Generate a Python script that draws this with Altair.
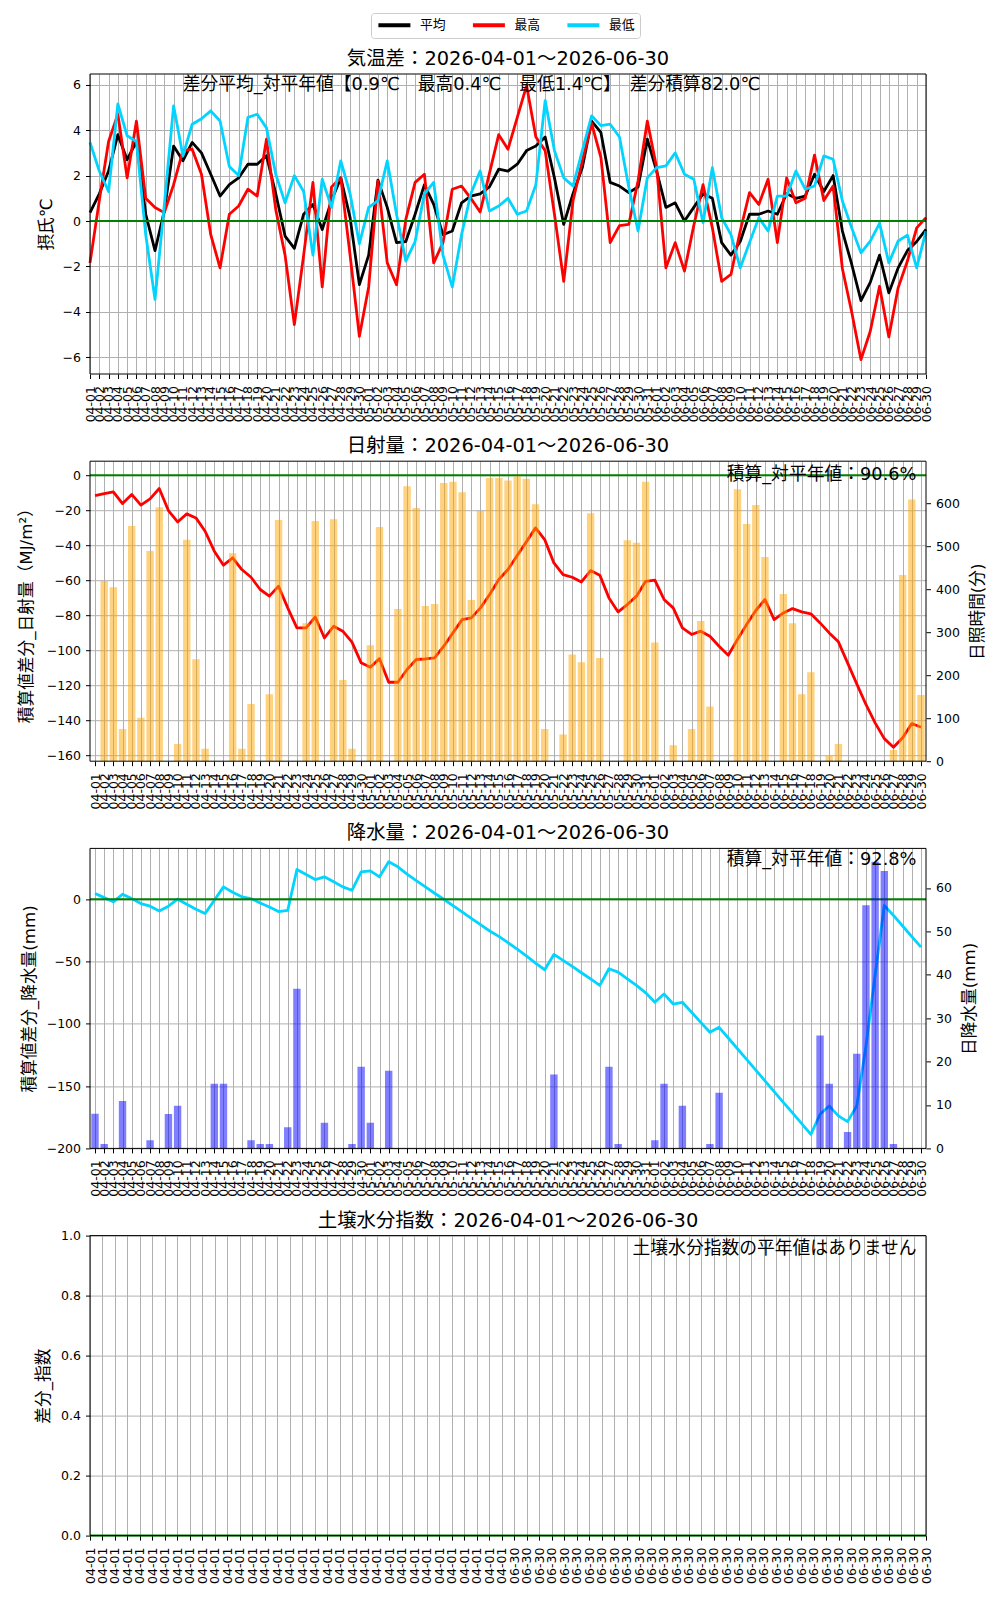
import json
import pandas as pd
import altair as alt

# ---------------- data ----------------
dates = [d.strftime("%m-%d") for d in pd.date_range("2026-04-01", "2026-06-30")]
days = list(range(len(dates)))

series_names = ["平均", "最高", "最低"]
series_colors = ["black", "red", "#00D4FF"]

t_avg = [0.37, 1.2, 2.2, 3.8, 2.7, 3.5, 0.3, -1.3, 0.44, 3.3,
         2.65, 3.46, 3.0, 2.06, 1.1, 1.6, 1.9, 2.5, 2.5, 2.87,
         1.2, -0.66, -1.2, 0.3, 0.73, -0.37, 0.9, 1.9, 0.15, -2.8,
         -1.5, 1.8, 0.6, -0.95, -0.9, 0.3, 1.6, 0.73, -0.6, -0.44,
         0.8, 1.1, 1.2, 1.5, 2.28, 2.2, 2.5, 3.1, 3.3, 3.7,
         1.9, -0.15, 1.2, 2.35, 4.4, 3.9, 1.7, 1.54, 1.25, 1.5,
         3.6, 2.2, 0.6, 0.8, 0.0, 0.6, 1.2, 1.0, -0.95, -1.5,
         -0.9, 0.3, 0.3, 0.44, 0.3, 1.2, 1.0, 1.1, 2.06, 1.3,
         2.0, -0.44, -1.9, -3.5, -2.7, -1.5, -3.16, -2.06, -1.3, -0.9,
         -0.37]
t_max = [-1.84, 0.9, 3.5, 4.7, 1.9, 4.4, 1.0, 0.6, 0.37, 1.6,
         3.1, 3.16, 2.06, -0.6, -2.06, 0.3, 0.66, 1.4, 1.1, 3.6,
         0.5, -1.5, -4.56, -1.5, 1.7, -2.9, 1.5, 1.9, -1.5, -5.07,
         -2.9, 1.76, -1.84, -2.8, 0.07, 1.7, 2.06, -1.84, -0.95, 1.4,
         1.54, 1.0, 0.4, 2.1, 3.8, 3.16, 4.56, 5.96, 3.7, 3.1,
         0.3, -2.65, 0.9, 2.65, 4.3, 2.8, -0.95, -0.2, -0.15, 1.76,
         4.4, 2.35, -2.06, -0.95, -2.2, -0.2, 1.6, -0.3, -2.65, -2.35,
         -0.44, 1.25, 0.73, 1.84, -0.95, 1.9, 0.8, 1.0, 2.9, 0.9,
         1.54, -2.1, -4.0, -6.1, -4.85, -2.87, -5.1, -2.94, -1.76, -0.3,
         0.15]
t_min = [3.46, 2.2, 1.3, 5.15, 3.75, 3.5, -0.6, -3.45, 0.7, 5.07,
         2.87, 4.26, 4.5, 4.85, 4.4, 2.4, 2.0, 4.56, 4.7, 4.1,
         2.06, 0.8, 2.0, 1.3, -1.5, 1.84, 0.6, 2.65, 1.2, -1.0,
         0.6, 0.9, 2.65, 0.3, -1.76, -0.9, 1.2, 1.7, -1.5, -2.9,
         -0.6, 1.2, 2.2, 0.44, 0.66, 1.0, 0.3, 0.44, 1.6, 5.3,
         3.1, 1.9, 1.54, 3.1, 4.63, 4.2, 4.26, 3.7, 1.5, -0.44,
         1.9, 2.35, 2.43, 3.0, 2.06, 1.84, -0.07, 2.35, 0.15, -0.6,
         -2.06, -0.95, 0.15, -0.44, 1.1, 1.1, 2.2, 1.4, 1.54, 2.87,
         2.72, 0.88, -0.3, -1.4, -0.88, -0.1, -1.84, -0.88, -0.62, -2.06,
         -0.44]

solar_cum = [-11.6, -10.5, -9.5, -16.2, -11.0, -17.1, -13.5, -7.6, -20.2, -26.7,
             -22.1, -24.4, -32.0, -43.4, -51.4, -47.2, -53.9, -58.3, -65.3, -69.1,
             -63.4, -75.8, -87.2, -87.2, -81.0, -93.0, -86.3, -89.1, -95.4, -107.2,
             -109.7, -104.8, -118.3, -118.3, -111.0, -105.3, -105.0, -104.4, -97.7, -90.1,
             -82.5, -81.5, -75.8, -68.2, -59.6, -53.9, -45.9, -38.1, -30.1, -36.8,
             -50.1, -56.8, -58.3, -61.0, -54.5, -57.1, -70.1, -78.1, -73.9, -69.1,
             -60.6, -60.0, -71.0, -75.8, -87.2, -91.0, -89.1, -92.0, -97.7, -102.9,
             -93.9, -85.3, -77.3, -71.0, -82.5, -78.7, -76.2, -78.1, -79.2, -84.4,
             -90.1, -95.2, -107.2, -119.2, -131.0, -141.5, -150.5, -155.4, -150.0, -141.9,
             -144.0]
sunshine = [0, 419, 405, 75, 547, 101, 489, 591, 0, 40,
            515, 237, 29, 0, 0, 484, 29, 133, 0, 156,
            561, 0, 0, 321, 559, 0, 563, 189, 29, 0,
            270, 545, 0, 354, 640, 589, 361, 366, 647, 650,
            626, 375, 582, 659, 659, 653, 663, 657, 598, 75,
            0, 62, 248, 230, 577, 240, 0, 0, 514, 508,
            650, 276, 0, 37, 0, 75, 326, 127, 0, 0,
            633, 552, 596, 475, 0, 389, 321, 156, 207, 0,
            12, 40, 0, 0, 0, 0, 0, 26, 433, 609,
            154]

precip_cum = [4.6, 1.3, -2.1, 4.0, 0.5, -3.5, -5.6, -9.4, -5.6, 0.0,
              -4.0, -8.1, -11.5, -0.8, 9.9, 5.6, 1.9, 0.5, -3.0, -6.2,
              -9.9, -8.9, 23.9, 19.9, 15.8, 18.0, 14.0, 9.9, 7.2, 22.0,
              22.8, 18.0, 30.1, 26.0, 20.1, 15.0, 9.9, 4.8, 0.0, -5.1,
              -10.2, -15.3, -20.4, -25.5, -29.8, -34.9, -40.0, -45.4, -51.3, -56.6,
              -44.3, -49.1, -53.9, -59.0, -63.9, -69.2, -55.8, -58.5, -63.9, -69.2,
              -75.1, -82.7, -76.0, -84.1, -82.7, -90.7, -98.8, -106.8, -102.8, -111.4,
              -120.0, -128.6, -137.2, -145.8, -154.4, -163.0, -171.5, -180.1, -188.7, -172.6,
              -165.9, -173.9, -178.5, -165.9, -118.0, -61.0, -5.0, -13.0, -21.5, -30.0,
              -38.5]
precip = [8.0, 1.0, 0, 10.9, 0, 0, 1.9, 0, 7.9, 9.8,
          0, 0, 0, 14.9, 14.9, 0, 0, 1.9, 1.0, 1.0,
          0, 4.9, 36.8, 0, 0, 5.9, 0, 0, 1.0, 18.8,
          5.9, 0, 17.9, 0, 0, 0, 0, 0, 0, 0,
          0, 0, 0, 0, 0, 0, 0, 0, 0, 0,
          17.0, 0, 0, 0, 0, 0, 18.8, 1.0, 0, 0,
          0, 1.9, 14.9, 0, 9.8, 0, 0, 1.0, 12.8, 0,
          0, 0, 0, 0, 0, 0, 0, 0, 0, 26.0,
          14.9, 0, 3.8, 21.8, 56.0, 66.0, 63.9, 1.0, 0, 0,
          0]

soil_tick_count = 68
soil_labels = ["04-01", "06-30"]

titles = ["気温差：2026-04-01～2026-06-30",
          "日射量：2026-04-01～2026-06-30",
          "降水量：2026-04-01～2026-06-30",
          "土壌水分指数：2026-04-01～2026-06-30"]
note_temp = "差分平均_対平年値【0.9℃　最高0.4℃　最低1.4℃】　差分積算82.0℃"
note_solar = "積算_対平年値：90.6%"
note_precip = "積算_対平年値：92.8%"
note_soil = "土壌水分指数の平年値はありません"

# ---------------- style ----------------
W, H = 836, 300
FONT = "DejaVu Sans, Noto Sans CJK JP"
GRID = "#b0b0b0"
LW = 2.8
TICK_FS = 12.5
NOTE_X = 826.5
NOTE_FS = 17.8


def x_axis(values, label_expr):
    return alt.Axis(values=values, labelExpr=label_expr, labelAngle=270,
                    labelAlign="right", labelBaseline="middle",
                    labelOverlap=False, labelFlush=False, labelBound=False,
                    labelFont=FONT, labelFontSize=TICK_FS, labelColor="black",
                    labelPadding=7, tickSize=4.5, tickColor="black",
                    grid=True, gridColor=GRID, gridWidth=1, domain=False,
                    title=None)


def y_axis(values, title, title_x, orient="left", fmt=None, grid=True):
    kw = dict(values=values, orient=orient, grid=grid, gridColor=GRID,
              gridWidth=1, domain=False, tickSize=4.5, tickColor="black",
              labelPadding=5, labelFont=FONT, labelFontSize=TICK_FS,
              labelColor="black", labelFlush=False, labelBound=False,
              labelOverlap=False, title=title, titleFont=FONT,
              titleFontSize=16.7, titleFontWeight="normal",
              titleColor="black", titleAngle=270, titleX=title_x,
              titleY=H / 2, titleAlign="center", titleBaseline="middle")
    if fmt:
        kw["format"] = fmt
    return alt.Axis(**kw)


one = pd.DataFrame({"k": [0]})


def title_mark(text):
    return alt.Chart(pd.DataFrame({"t": [text]})).mark_text(
        align="center", baseline="alphabetic", font=FONT, fontSize=19.4,
        color="black").encode(x=alt.value(W / 2), y=alt.value(-9), text="t:N")


def note_mark(text, x, y, align):
    return alt.Chart(pd.DataFrame({"t": [text]})).mark_text(
        align=align, baseline="top", font=FONT, fontSize=NOTE_FS,
        color="black").encode(x=alt.value(x), y=alt.value(y), text="t:N")


def zero_rule(field, scale, axis):
    return alt.Chart(pd.DataFrame({field: [0.0]})).mark_rule(
        color="green", strokeWidth=2).encode(
        y=alt.Y(f"{field}:Q", scale=scale, axis=axis))


def border():
    return alt.Chart(one).mark_rect(fillOpacity=0, stroke="black",
                                    strokeWidth=1).encode(
        x=alt.value(0), x2=alt.value(W), y=alt.value(0), y2=alt.value(H))


# invisible anchor fixing the top-left corner of the whole drawing
anchor = alt.Chart(one).mark_rect(opacity=0).encode(
    x=alt.value(-81.3), x2=alt.value(-80.3), y=alt.value(-65.3), y2=alt.value(-64.3))

date_expr = json.dumps(dates) + "[datum.value]"
X = alt.X("day:Q", scale=alt.Scale(domain=[0, len(days) - 1], nice=False, zero=False),
          axis=x_axis(days, date_expr))

# ---------------- panel 1: temperature ----------------
temp_df = pd.DataFrame({
    "day": days * 3,
    "series": [series_names[0]] * len(days) + [series_names[1]] * len(days) + [series_names[2]] * len(days),
    "value": t_avg + t_max + t_min,
})
legend = alt.Legend(title=None, orient="none", legendX=281, legendY=-61,
                    direction="horizontal", symbolType="stroke",
                    symbolSize=1024, symbolStrokeWidth=4, clipHeight=13,
                    labelFont=FONT, labelFontSize=12.8, labelColor="black",
                    labelOffset=7.5, columnPadding=24.5, padding=5.4,
                    strokeColor="#cccccc", fillColor="white", cornerRadius=3)
y1_scale = alt.Scale(domain=[-6.73, 6.47], nice=False, zero=False)
y1_axis = y_axis(list(range(-6, 7, 2)), "摂氏℃", -43.3)
lines = alt.Chart(temp_df).mark_line(strokeWidth=LW, strokeJoin="round").encode(
    x=X,
    y=alt.Y("value:Q", scale=y1_scale, axis=y1_axis),
    color=alt.Color("series:N", scale=alt.Scale(domain=series_names, range=series_colors),
                    sort=series_names, legend=legend),
)
p1 = alt.layer(lines, zero_rule("value", y1_scale, y1_axis),
               note_mark(note_temp, 92.7, 2, "left"),
               title_mark(titles[0]), border(), anchor).properties(width=W, height=H)

# ---------------- panel 2: solar ----------------
df2 = pd.DataFrame({"day": days, "solar": solar_cum, "sun": sunshine})
y2_scale = alt.Scale(domain=[-163.4, 8], nice=False, zero=False)
y2_axis = y_axis(list(range(-160, 1, 20)), "積算値差分_日射量（MJ/m²）", -63.8)
solar_line = alt.Chart(df2).mark_line(color="red", strokeWidth=LW, strokeJoin="round").encode(
    x=X, y=alt.Y("solar:Q", scale=y2_scale, axis=y2_axis))
sun_bars = alt.Chart(df2).mark_bar(color="orange", opacity=0.5, size=7.4, clip=True).encode(
    x=X,
    y=alt.Y("sun:Q", scale=alt.Scale(domain=[0, 698], nice=False),
            axis=y_axis(list(range(0, 601, 100)), "日照時間(分)", 51.8, orient="right", grid=False)))
p2 = alt.layer(alt.layer(solar_line, zero_rule("solar", y2_scale, y2_axis)), sun_bars,
               note_mark(note_solar, NOTE_X, 5, "right"), title_mark(titles[1]),
               border()).resolve_scale(y="independent").properties(width=W, height=H)

# ---------------- panel 3: precipitation ----------------
df3 = pd.DataFrame({"day": days, "pcum": precip_cum, "pr": precip})
y3_scale = alt.Scale(domain=[-200, 40.8], nice=False, zero=False)
y3_axis = y_axis(list(range(-200, 1, 50)), "積算値差分_降水量(mm)", -60.7)
pr_line = alt.Chart(df3).mark_line(color="#00D4FF", strokeWidth=LW, strokeJoin="round").encode(
    x=X, y=alt.Y("pcum:Q", scale=y3_scale, axis=y3_axis))
pr_bars = alt.Chart(df3).mark_bar(color="blue", opacity=0.5, size=7.4, clip=True).encode(
    x=X,
    y=alt.Y("pr:Q", scale=alt.Scale(domain=[0, 69.1], nice=False),
            axis=y_axis(list(range(0, 61, 10)), "日降水量(mm)", 43.7, orient="right", grid=False)))
p3 = alt.layer(alt.layer(pr_line, zero_rule("pcum", y3_scale, y3_axis)), pr_bars,
               note_mark(note_precip, NOTE_X, 3, "right"), title_mark(titles[2]),
               border()).resolve_scale(y="independent").properties(width=W, height=H)

# ---------------- panel 4: soil moisture (no data) ----------------
half = soil_tick_count // 2
soil_expr = f"datum.value < {half} ? '{soil_labels[0]}' : '{soil_labels[1]}'"
df4 = pd.DataFrame({"x0": [0], "x1": [soil_tick_count - 1], "y": [0.0]})
soil_base = alt.Chart(df4).mark_rule(color="green", strokeWidth=2).encode(
    x=alt.X("x0:Q", scale=alt.Scale(domain=[0, soil_tick_count - 1], nice=False, zero=False),
            axis=x_axis(list(range(soil_tick_count)), soil_expr)),
    x2="x1:Q",
    y=alt.Y("y:Q", scale=alt.Scale(domain=[0, 1], nice=False),
            axis=y_axis([0, 0.2, 0.4, 0.6, 0.8, 1.0], "差分_指数", -46.3, fmt=".1f")))
p4 = alt.layer(soil_base, note_mark(note_soil, NOTE_X, 4, "right"),
               title_mark(titles[3]), border()).properties(width=W, height=H)

chart = alt.vconcat(p1, p2, p3, p4, spacing=87.2, bounds="flush").configure(
    padding={"left": 0, "top": 0, "right": 0, "bottom": 0},
    background="white",
).configure_view(strokeWidth=0)

chart.save("out.html", embed_options={"renderer": "svg", "actions": False})
